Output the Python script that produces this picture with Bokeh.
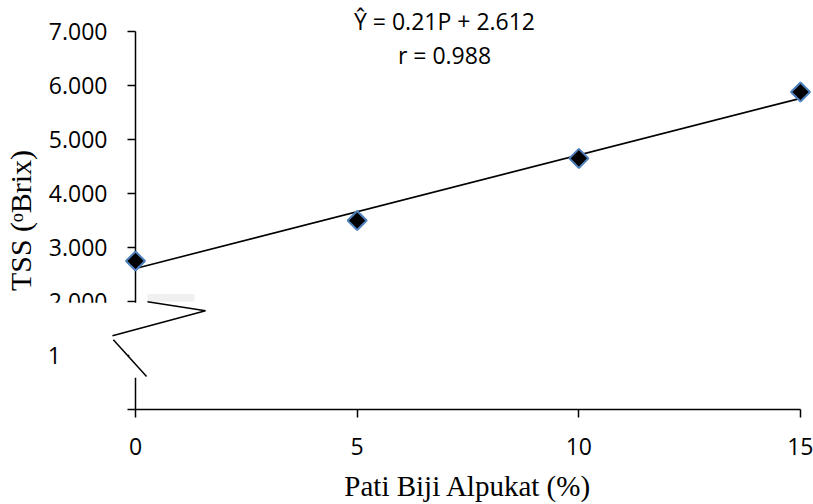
import math
from bokeh.plotting import figure
from bokeh.models import Range1d, FixedTicker, ColumnDataSource
from bokeh.core.properties import value
from bokeh.embed import file_html
from bokeh.resources import INLINE

# ---- data ----
pati = [0, 5, 10, 15]                 # Pati Biji Alpukat (%)
tss = [2.75, 3.50, 4.65, 5.88]        # TSS (oBrix)
slope = 0.21
intercept = 2.612
x_ticks = [0, 5, 10, 15]
y_ticks = [0, 1, 2, 3, 4, 5, 6, 7]
y_tick_labels = {0: "", 1: "", 2: "2.000", 3: "3.000", 4: "4.000",
                 5: "5.000", 6: "6.000", 7: "7.000"}
equation = "\u0176 = 0.21P + 2.612"
r_text = "r = 0.988"

TICK_FONT = "Open Sans"
TICK_SIZE = "23px"

p = figure(width=813, height=504, output_backend="svg", toolbar_location=None,
           x_range=Range1d(0, 15), y_range=Range1d(0, 7),
           min_border_left=135, min_border_right=13,
           min_border_top=31, min_border_bottom=94)
p.outline_line_color = None
p.xgrid.grid_line_color = None
p.ygrid.grid_line_color = None
p.background_fill_color = "white"
p.border_fill_color = "white"

for ax in (p.xaxis[0], p.yaxis[0]):
    ax.axis_line_color = "black"
    ax.axis_line_width = 1.5
    ax.major_tick_line_color = "black"
    ax.major_tick_line_width = 1.5
    ax.major_tick_out = 8
    ax.major_tick_in = 0
    ax.minor_tick_line_color = None
    ax.major_label_text_font = TICK_FONT
    ax.major_label_text_font_size = TICK_SIZE
    ax.major_label_text_color = "black"
    ax.axis_label_text_font = "Liberation Serif"
    ax.axis_label_text_font_style = "normal"
    ax.axis_label_text_color = "black"

p.xaxis.ticker = FixedTicker(ticks=x_ticks)
p.xaxis.major_label_standoff = 20
p.xaxis.axis_label = "Pati Biji Alpukat (%)"
p.xaxis.axis_label_text_font_size = "29px"
p.xaxis.axis_label_standoff = 12

p.yaxis.ticker = FixedTicker(ticks=y_ticks)
p.yaxis.major_label_overrides = {k: v for k, v in y_tick_labels.items()}
p.yaxis.major_label_standoff = 20
p.yaxis.axis_label = "TSS (\u1d52Brix)"
p.yaxis.axis_label_text_font_size = "30px"
p.yaxis.axis_label_standoff = 9

# regression line
line_x = [x_ticks[0], x_ticks[-1]]
line_y = [slope * v + intercept for v in line_x]
p.line(line_x, line_y, line_color="black", line_width=1.6, level="annotation")

# broken-axis decoration: white covers, grey patch, zigzag
p.quad(left=[-0.14], right=[0.14], bottom=[0.59], top=[1.975],
       fill_color="white", line_color=None, level="annotation")
p.quad(left=[-2.2], right=[-0.15], bottom=[1.26], top=[1.975],
       fill_color="white", line_color=None, level="annotation")
p.quad(left=[0.27], right=[1.33], bottom=[1.995], top=[2.14],
       fill_color="#f0f0f0", line_color=None, level="annotation")
p.line([0.27, 1.58, -0.52], [1.995, 1.83, 1.367], line_color="black",
       line_width=1.5, level="annotation")
p.line([-0.50, 0.25], [1.29, 0.61], line_color="black",
       line_width=1.5, level="annotation")
p.text(x=[-1.83], y=[1.0], text=["1"], text_font=value(TICK_FONT),
       text_font_size=TICK_SIZE, text_align="center",
       text_baseline="middle", text_color="black", level="annotation")

# data points
src = ColumnDataSource(dict(x=pati, y=tss))
p.scatter("x", "y", source=src, marker="square", size=13.5, angle=math.pi / 4,
          fill_color="black", line_color="#4f81bd", line_width=2,
          level="annotation")

# equation
p.text(x=[6.97, 6.97], y=[7.19, 6.57], text=[equation, r_text],
       text_font=value(TICK_FONT), text_font_size=TICK_SIZE,
       text_align="center", text_baseline="middle", text_color="black",
       level="annotation")

open("out.html", "w").write(file_html(p, INLINE))
